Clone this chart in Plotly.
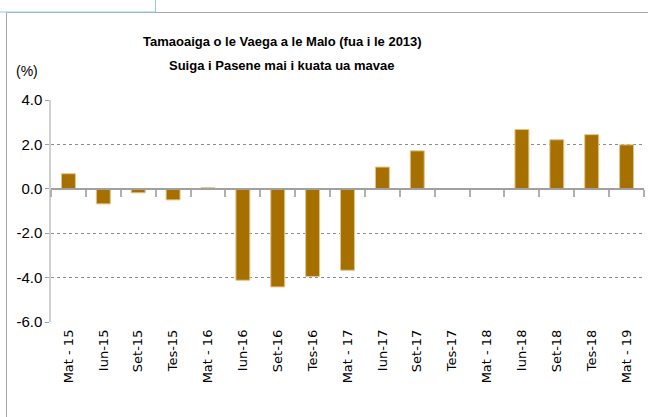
import plotly.graph_objects as go

categories = ["Mat - 15", "Iun-15", "Set-15", "Tes-15", "Mat - 16", "Iun-16", "Set-16", "Tes-16",
              "Mat - 17", "Iun-17", "Set-17", "Tes-17", "Mat - 18", "Iun-18", "Set-18", "Tes-18", "Mat - 19"]
values = [0.68, -0.68, -0.18, -0.50, 0.05, -4.12, -4.42, -3.95,
          -3.67, 0.98, 1.71, 0.0, 0.0, 2.67, 2.21, 2.44, 1.98]
y_ticks = [4, 2, 0, -2, -4, -6]
y_ticktext = ["4.0", "2.0", "0.0", "-2.0", "-4.0", "-6.0"]
title1 = "Tamaoaiga o le Vaega a le Malo (fua i le 2013)"
title2 = "Suiga i Pasene mai i kuata ua mavae"
unit = "(%)"

W, H = 648, 417
L, R, T, B = 51, 4, 100, 95
PW, PH = W - L - R, H - T - B

def px_x(x):
    return (x - L) / PW

def px_y(y):
    return (H - B - y) / PH

SANS = "Liberation Sans Narrow, Arial Narrow, Liberation Sans, sans-serif"
BAR = "#A67000"

fig = go.Figure()
fig.add_trace(go.Bar(x=categories, y=values, marker=dict(color=BAR, line=dict(color="#E2C58C", width=1)),
                     showlegend=False))
# helper trace for the axis that draws the boundary ticks along zero
fig.add_trace(go.Bar(x=categories, y=[None] * len(categories), xaxis="x2", showlegend=False,
                     hoverinfo="skip"))

fig.update_layout(
    width=W, height=H,
    margin=dict(l=L, r=R, t=T, b=B, autoexpand=False),
    paper_bgcolor="white", plot_bgcolor="white",
    bargap=0.6,
    xaxis=dict(type="category", showgrid=False, showline=False, ticks="", automargin=False,
               tickangle=-90, tickfont=dict(family="DejaVu Sans, Verdana", size=13, color="black"),
               ticklabelstandoff=4),
    xaxis2=dict(type="category", overlaying="x", matches="x", anchor="free", position=0.6, automargin=False,
                showticklabels=False, showgrid=False, showline=True, linecolor="#a0a0a0", linewidth=1.5,
                ticks="outside", tickson="boundaries", ticklen=7, tickcolor="#b0b0b0", tickwidth=1.5),
    yaxis=dict(range=[-6, 4], tickvals=y_ticks, ticktext=y_ticktext, automargin=False,
               showgrid=True, gridcolor="#8c8c8c", griddash="dot", gridwidth=1,
               zeroline=False, showline=True, linecolor="#d0d0d0", linewidth=1.5,
               ticks="outside", ticklen=4, tickcolor="#a0a0a0",
               tickfont=dict(family=SANS, size=15, color="black")),
)

fig.add_annotation(text="<b>" + title1 + "</b>", xref="paper", yref="paper",
                   x=px_x(282.5), y=px_y(41), showarrow=False, xanchor="center", yanchor="middle",
                   font=dict(family=SANS, size=13, color="black"))
fig.add_annotation(text="<b>" + title2 + "</b>", xref="paper", yref="paper",
                   x=px_x(281), y=px_y(65), showarrow=False, xanchor="center", yanchor="middle",
                   font=dict(family=SANS, size=13, color="black"))
fig.add_annotation(text=unit, xref="paper", yref="paper",
                   x=px_x(27), y=px_y(71), showarrow=False, xanchor="center", yanchor="middle",
                   font=dict(family=SANS, size=14, color="black"))

# chart frame and screen artifacts
fig.add_shape(type="rect", xref="paper", yref="paper", x0=px_x(6.5), x1=px_x(700), y0=px_y(12.5), y1=px_y(450),
              line=dict(color="#a8a8a8", width=1), fillcolor="rgba(0,0,0,0)", layer="above")
fig.add_shape(type="rect", xref="paper", yref="paper", x0=px_x(-10), x1=px_x(155.5), y0=px_y(-10), y1=px_y(12),
              line=dict(color="#8ec8f0", width=1), fillcolor="rgba(0,0,0,0)", layer="above")

fig.write_html("out.html", config={"displayModeBar": False},
               post_script="document.body.style.margin='0';document.body.style.overflow='hidden';")
